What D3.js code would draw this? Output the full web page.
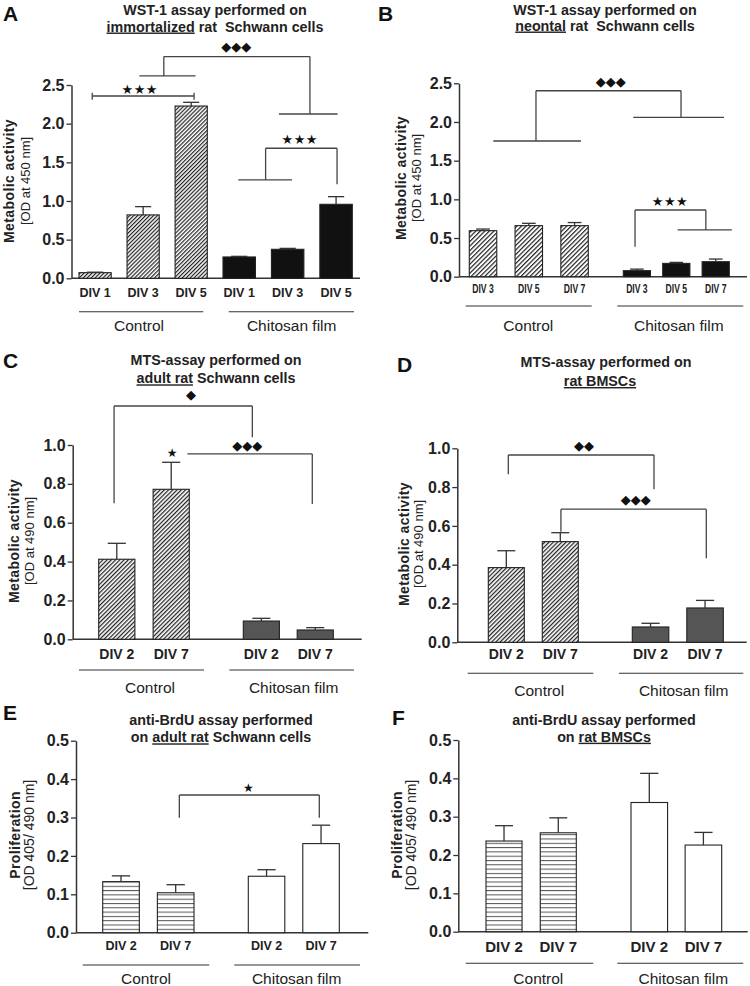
<!DOCTYPE html>
<html><head><meta charset="utf-8">
<script src="https://cdn.jsdelivr.net/npm/d3@7"></script>
<style>body{margin:0;background:#fff} svg{display:block} text{white-space:pre}</style>
</head><body><svg id="c" width="750" height="986"></svg>
<script>
// ---------------- data ----------------
const groupNames = ["Control", "Chitosan film"];
const catsA = ["DIV 1", "DIV 3", "DIV 5"];
const ctrlA = [0.073, 0.82, 2.228];
const ctrlErrA = [0.006, 0.107, 0.048];
const chitA = [0.276, 0.375, 0.957];
const chitErrA = [0.008, 0.012, 0.099];

const catsB = ["DIV 3", "DIV 5", "DIV 7"];
const ctrlB = [0.595, 0.66, 0.66];
const ctrlErrB = [0.021, 0.03, 0.04];
const chitB = [0.078, 0.172, 0.194];
const chitErrB = [0.02, 0.013, 0.034];

const catsCD = ["DIV 2", "DIV 7"];
const ctrlC = [0.412, 0.772];
const ctrlErrC = [0.082, 0.139];
const chitC = [0.094, 0.048];
const chitErrC = [0.014, 0.012];

const ctrlD = [0.385, 0.519];
const ctrlErrD = [0.087, 0.046];
const chitD = [0.079, 0.177];
const chitErrD = [0.019, 0.039];

const ctrlE = [0.133, 0.104];
const ctrlErrE = [0.015, 0.021];
const chitE = [0.147, 0.232];
const chitErrE = [0.017, 0.048];

const ctrlF = [0.2365, 0.258];
const ctrlErrF = [0.04, 0.039];
const chitF = [0.337, 0.226];
const chitErrF = [0.076, 0.033];

const ticksAB = [0, 0.5, 1.0, 1.5, 2.0, 2.5];
const ticksCD = [0, 0.2, 0.4, 0.6, 0.8, 1.0];
const ticksEF = [0, 0.1, 0.2, 0.3, 0.4, 0.5];

// ---------------- drawing ----------------
const FONT = "'Liberation Sans', Arial, Helvetica, sans-serif";
const SYM = "'DejaVu Sans', sans-serif";
const svg = d3.select("#c");
const defs = svg.append("defs");

function diag(id, w, col, lw) {
  const p = defs.append("pattern").attr("id", id).attr("patternUnits", "userSpaceOnUse")
    .attr("width", w).attr("height", w).attr("patternTransform", "rotate(45)");
  p.append("rect").attr("width", w).attr("height", w).attr("fill", "#fff");
  p.append("rect").attr("x", 0).attr("y", 0).attr("width", lw).attr("height", w).attr("fill", col);
}
diag("hatchA", 2.8, "#222", 1.2);
diag("hatchB", 3.2, "#222", 1.2);
diag("hatchC", 3.0, "#222", 1.25);
(function () {
  const p = defs.append("pattern").attr("id", "hstripe").attr("patternUnits", "userSpaceOnUse")
    .attr("width", 10).attr("height", 4.3);
  p.append("rect").attr("width", 10).attr("height", 4.3).attr("fill", "#fff");
  p.append("rect").attr("y", 0).attr("width", 10).attr("height", 1).attr("fill", "#555");
})();

function panel(cfg) {
  const g = svg.append("g");
  const y = d3.scaleLinear().domain(cfg.yDomain).range(cfg.yRange);
  const xs = cfg.groupRanges.map((r, gi) => d3.scaleBand().domain(cfg.cats).range(r)
    .paddingInner(cfg.pad[gi]).paddingOuter(0));
  const bars = [];
  cfg.series.forEach((s, gi) => cfg.cats.forEach((c, ci) => bars.push({
    gi, c, v: s.values[ci], e: s.err[ci], x: xs[gi](c), w: xs[gi].bandwidth(), fill: s.fill, stroke: s.stroke
  })));
  const centers = bars.map(b => b.x + b.w / 2);
  const n = centers.length;
  const xi = i => {
    if (i <= 0) return centers[0] + i * (centers[1] - centers[0]);
    if (i >= n - 1) return centers[n - 1] + (i - n + 1) * (centers[n - 1] - centers[n - 2]);
    const k = Math.floor(i);
    return centers[k] + (i - k) * (centers[k + 1] - centers[k]);
  };

  // panel letter
  g.append("text").attr("x", cfg.letter.x).attr("y", cfg.letter.y).text(cfg.letter.t)
    .attr("font-family", FONT).attr("font-weight", "bold").attr("font-size", 21).attr("fill", "#111");

  // title
  cfg.title.forEach(line => {
    const t = g.append("text").attr("x", line.x).attr("y", line.y).attr("text-anchor", "middle")
      .attr("font-family", FONT).attr("font-weight", "bold").attr("font-size", 14.3).attr("fill", "#222");
    line.parts.forEach(p => t.append("tspan").text(p[0])
      .attr("text-decoration", p[1] ? "underline" : null));
  });

  // y title
  cfg.yTitle.forEach(l => {
    g.append("text").attr("transform", `translate(${l.x},${cfg.yTitleCy}) rotate(-90)`)
      .attr("text-anchor", "middle").attr("font-family", FONT)
      .attr("font-weight", l.bold ? "bold" : "normal").attr("font-size", l.size)
      .attr("letter-spacing", l.bold ? 0.4 : 0).attr("fill", "#222").text(l.t);
  });

  // axis
  const ax = g.append("g").attr("transform", `translate(${cfg.axisX},0)`)
    .call(d3.axisLeft(y).tickValues(cfg.ticks).tickSize(5).tickSizeOuter(0).tickPadding(2)
      .tickFormat(d3.format(".1f")));
  ax.select(".domain").attr("stroke", "#333").attr("stroke-width", 1.5);
  ax.selectAll(".tick line").attr("stroke", "#333").attr("stroke-width", 1.3);
  ax.selectAll(".tick text").attr("font-family", FONT).attr("font-weight", "bold")
    .attr("font-size", 16).attr("fill", "#222");
  g.append("line").attr("x1", cfg.axisX).attr("x2", cfg.xEnd).attr("y1", y(0)).attr("y2", y(0))
    .attr("stroke", "#333").attr("stroke-width", 1.5);

  // bars
  g.selectAll("rect.bar").data(bars).join("rect").attr("class", "bar")
    .attr("x", d => d.x).attr("y", d => y(d.v)).attr("width", d => d.w)
    .attr("height", d => y(0) - y(d.v)).attr("fill", d => d.fill)
    .attr("stroke", d => d.stroke || "#222").attr("stroke-width", 1.1);
  // error bars
  const eb = g.selectAll("g.err").data(bars).join("g").attr("class", "err")
    .attr("stroke", "#333").attr("stroke-width", 1.3);
  eb.append("line").attr("x1", d => d.x + d.w / 2).attr("x2", d => d.x + d.w / 2)
    .attr("y1", d => y(d.v)).attr("y2", d => y(d.v + d.e));
  eb.append("line").attr("x1", d => d.x + d.w / 4).attr("x2", d => d.x + 3 * d.w / 4)
    .attr("y1", d => y(d.v + d.e)).attr("y2", d => y(d.v + d.e));

  // x labels
  g.selectAll("text.xl").data(bars).join("text").attr("class", "xl")
    .attr("x", d => d.x + d.w / 2).attr("y", cfg.labelY).attr("text-anchor", "middle")
    .attr("font-family", FONT).attr("font-weight", "bold").attr("font-size", cfg.labelSize)
    .attr("fill", "#222")
    .attr("textLength", cfg.labelLen || null).attr("lengthAdjust", cfg.labelLen ? "spacingAndGlyphs" : null)
    .text(d => d.c);

  // group lines + labels
  cfg.groupLines.forEach((gl, i) => {
    g.append("line").attr("x1", gl[0]).attr("x2", gl[1]).attr("y1", cfg.groupLineY).attr("y2", cfg.groupLineY)
      .attr("stroke", "#333").attr("stroke-width", 1.1);
    g.append("text").attr("x", cfg.groupLabelX[i]).attr("y", cfg.groupLabelY).attr("text-anchor", "middle")
      .attr("font-family", FONT).attr("font-size", 15.5).attr("fill", "#222").text(groupNames[i]);
  });

  // significance annotations
  (cfg.segs || []).forEach(s => {
    g.append("line").attr("x1", xi(s[0])).attr("y1", y(s[1])).attr("x2", xi(s[2])).attr("y2", y(s[3]))
      .attr("stroke", "#444").attr("stroke-width", 1.3);
  });
  (cfg.marks || []).forEach(m => {
    g.append("text").attr("x", xi(m.i)).attr("y", y(m.v)).attr("text-anchor", "middle")
      .attr("dominant-baseline", "central").attr("font-family", SYM).attr("font-size", m.size)
      .attr("letter-spacing", m.ls || 0).attr("fill", "#111").text(m.t);
  });
}

panel({
  letter: { t: "A", x: 3, y: 21 },
  title: [{ x: 215, y: 15, parts: [["WST-1 assay performed on", 0]] },
          { x: 215, y: 31.5, parts: [["immortalized", 1], [" rat  Schwann cells", 0]] }],
  yTitleCy: 181,
  yTitle: [{ x: 14, t: "Metabolic activity", bold: 1, size: 14 }, { x: 30, t: "[OD at 450 nm]", size: 13 }],
  axisX: 71.5, xEnd: 360, yDomain: [0, 2.5], yRange: [278.3, 85], ticks: ticksAB,
  cats: catsA, groupRanges: [[79, 207.3], [223, 352.3]], pad: [0.33, 0.33],
  series: [{ values: ctrlA, err: ctrlErrA, fill: "url(#hatchA)" }, { values: chitA, err: chitErrA, fill: "#111" }],
  labelY: 296.7, labelSize: 12.5,
  groupLineY: 311.7, groupLines: [[79, 203.3], [228.7, 354]], groupLabelX: [139, 291.7], groupLabelY: 331,
  segs: [[-0.06, 2.358, 2.06, 2.358], [-0.06, 2.31, -0.06, 2.40], [2.06, 2.31, 2.06, 2.40],
         [1.43, 2.867, 4.46, 2.867], [1.43, 2.867, 1.43, 2.617], [0.92, 2.617, 2.09, 2.617],
         [4.46, 2.867, 4.46, 2.125], [3.82, 2.125, 5.03, 2.125],
         [3.545, 1.682, 5.02, 1.682], [3.545, 1.682, 3.545, 1.272], [2.98, 1.272, 4.09, 1.272],
         [5.02, 1.682, 5.02, 1.216]],
  marks: [{ i: 0.93, v: 2.445, t: "★★★", size: 13, ls: 0.5 }, { i: 2.94, v: 2.996, t: "◆◆◆", size: 13 },
          { i: 4.25, v: 1.798, t: "★★★", size: 13, ls: 0.5 }]
});

panel({
  letter: { t: "B", x: 378, y: 21 },
  title: [{ x: 605, y: 15, parts: [["WST-1 assay performed on", 0]] },
          { x: 605, y: 30.5, parts: [["neontal", 1], [" rat  Schwann cells", 0]] }],
  yTitleCy: 178,
  yTitle: [{ x: 406, t: "Metabolic activity", bold: 1, size: 14 }, { x: 420.5, t: "[OD at 450 nm]", size: 13 }],
  axisX: 459, xEnd: 747, yDomain: [0, 2.5], yRange: [276.7, 83.3], ticks: ticksAB,
  cats: catsB, groupRanges: [[469.3, 588.3], [623.3, 729.3]], pad: [0.40, 0.31],
  series: [{ values: ctrlB, err: ctrlErrB, fill: "url(#hatchB)" }, { values: chitB, err: chitErrB, fill: "#111" }],
  labelY: 293.3, labelSize: 12.5, labelLen: 21.5,
  groupLineY: 306, groupLines: [[465.7, 591.7], [617.3, 743.3]], groupLabelX: [528.3, 678.8], groupLabelY: 330.5,
  segs: [[1.157, 2.404, 4.12, 2.404], [1.157, 2.404, 1.157, 1.754], [0.225, 1.754, 2.103, 1.754],
         [4.12, 2.404, 4.12, 2.06], [2.942, 2.06, 5.21, 2.06],
         [2.97, 0.862, 4.75, 0.862], [2.97, 0.862, 2.97, 0.388], [4.75, 0.862, 4.75, 0.604],
         [4.036, 0.604, 5.41, 0.604]],
  marks: [{ i: 2.58, v: 2.52, t: "◆◆◆", size: 13 }, { i: 3.84, v: 0.97, t: "★★★", size: 13, ls: 0.5 }]
});

panel({
  letter: { t: "C", x: 3, y: 368 },
  title: [{ x: 216, y: 364.5, parts: [["MTS-assay performed on", 0]] },
          { x: 216, y: 383.3, parts: [["adult rat", 1], [" Schwann cells", 0]] }],
  yTitleCy: 541,
  yTitle: [{ x: 18.5, t: "Metabolic activity", bold: 1, size: 14 }, { x: 33.5, t: "[OD at 490 nm]", size: 13 }],
  axisX: 72.7, xEnd: 361.7, yDomain: [0, 1], yRange: [639.3, 445], ticks: ticksCD,
  cats: catsCD, groupRanges: [[98.7, 189.3], [243.3, 333.3]], pad: [0.335, 0.33],
  series: [{ values: ctrlC, err: ctrlErrC, fill: "url(#hatchC)" }, { values: chitC, err: chitErrC, fill: "#555" }],
  labelY: 658.5, labelSize: 14,
  groupLineY: 670, groupLines: [[79, 204], [229.3, 354]], groupLabelX: [150, 293.7], groupLabelY: 693,
  segs: [[-0.05, 1.2007, 1.9, 1.2007], [-0.05, 1.2007, -0.05, 0.70], [1.9, 1.2007, 1.9, 1.04],
         [1.18, 0.954, 2.945, 0.954], [2.945, 0.954, 2.945, 0.696]],
  marks: [{ i: 1.22, v: 1.262, t: "◆", size: 13 }, { i: 1.01, v: 0.961, t: "★", size: 12 },
          { i: 1.844, v: 0.995, t: "◆◆◆", size: 13 }]
});

panel({
  letter: { t: "D", x: 397, y: 372 },
  title: [{ x: 606, y: 366.7, parts: [["MTS-assay performed on", 0]] },
          { x: 600, y: 386, parts: [["rat BMSCs", 1]] }],
  yTitleCy: 544,
  yTitle: [{ x: 408.5, t: "Metabolic activity", bold: 1, size: 14 }, { x: 422.5, t: "[OD at 490 nm]", size: 13 }],
  axisX: 457.3, xEnd: 746.7, yDomain: [0, 1], yRange: [642.3, 448.3], ticks: ticksCD,
  cats: catsCD, groupRanges: [[488.3, 578.3], [632.3, 723.3]], pad: [0.333, 0.33],
  series: [{ values: ctrlD, err: ctrlErrD, fill: "url(#hatchC)" }, { values: chitD, err: chitErrD, fill: "#555" }],
  labelY: 658.5, labelSize: 14,
  groupLineY: 673.3, groupLines: [[467.7, 593.3], [619, 743.3]], groupLabelX: [539.2, 683.7], groupLabelY: 696,
  segs: [[0.037, 0.9655, 2.063, 0.9655], [0.037, 0.9655, 0.037, 0.866], [2.063, 0.9655, 2.063, 0.789],
         [1.007, 0.686, 3.023, 0.686], [1.007, 0.686, 1.007, 0.570], [3.023, 0.686, 3.023, 0.433]],
  marks: [{ i: 1.263, v: 1.017, t: "◆◆", size: 13 }, { i: 1.835, v: 0.737, t: "◆◆◆", size: 13 }]
});

panel({
  letter: { t: "E", x: 3, y: 720 },
  title: [{ x: 221, y: 725, parts: [["anti-BrdU assay performed", 0]] },
          { x: 221, y: 742.3, parts: [["on ", 0], ["adult rat", 1], [" Schwann cells", 0]] }],
  yTitleCy: 835,
  yTitle: [{ x: 20, t: "Proliferation", bold: 1, size: 14 }, { x: 34, t: "[OD 405/ 490 nm]", size: 14 }],
  axisX: 76, xEnd: 368.3, yDomain: [0, 0.5], yRange: [932.7, 740.7], ticks: ticksEF,
  cats: catsCD, groupRanges: [[102.7, 194], [248.3, 339.3]], pad: [0.33, 0.33],
  series: [{ values: ctrlE, err: ctrlErrE, fill: "url(#hstripe)" }, { values: chitE, err: chitErrE, fill: "#fff" }],
  labelY: 950, labelSize: 12.5,
  groupLineY: 965, groupLines: [[82.7, 209.3], [234.3, 360]], groupLabelX: [146, 296.7], groupLabelY: 984,
  segs: [[1.04, 0.3586, 2.968, 0.3586], [1.04, 0.3586, 1.04, 0.2995], [2.968, 0.3586, 2.968, 0.2995]],
  marks: [{ i: 1.80, v: 0.3776, t: "★", size: 12 }]
});

panel({
  letter: { t: "F", x: 392, y: 725 },
  title: [{ x: 604, y: 725, parts: [["anti-BrdU assay performed", 0]] },
          { x: 604, y: 741.7, parts: [["on ", 0], ["rat BMSCs", 1]] }],
  yTitleCy: 835,
  yTitle: [{ x: 402, t: "Proliferation", bold: 1, size: 14 }, { x: 416, t: "[OD 405/ 490 nm]", size: 14 }],
  axisX: 458.3, xEnd: 747.7, yDomain: [0, 0.5], yRange: [931.7, 740], ticks: ticksEF,
  cats: catsCD, groupRanges: [[486, 576.3], [631, 721.7]], pad: [0.336, 0.324],
  series: [{ values: ctrlF, err: ctrlErrF, fill: "url(#hstripe)" }, { values: chitF, err: chitErrF, fill: "#fff" }],
  labelY: 951.7, labelSize: 15,
  groupLineY: 963.3, groupLines: [[465.7, 593.3], [617.3, 743.3]], groupLabelX: [538.3, 683.3], groupLabelY: 984
});
</script></body></html>
